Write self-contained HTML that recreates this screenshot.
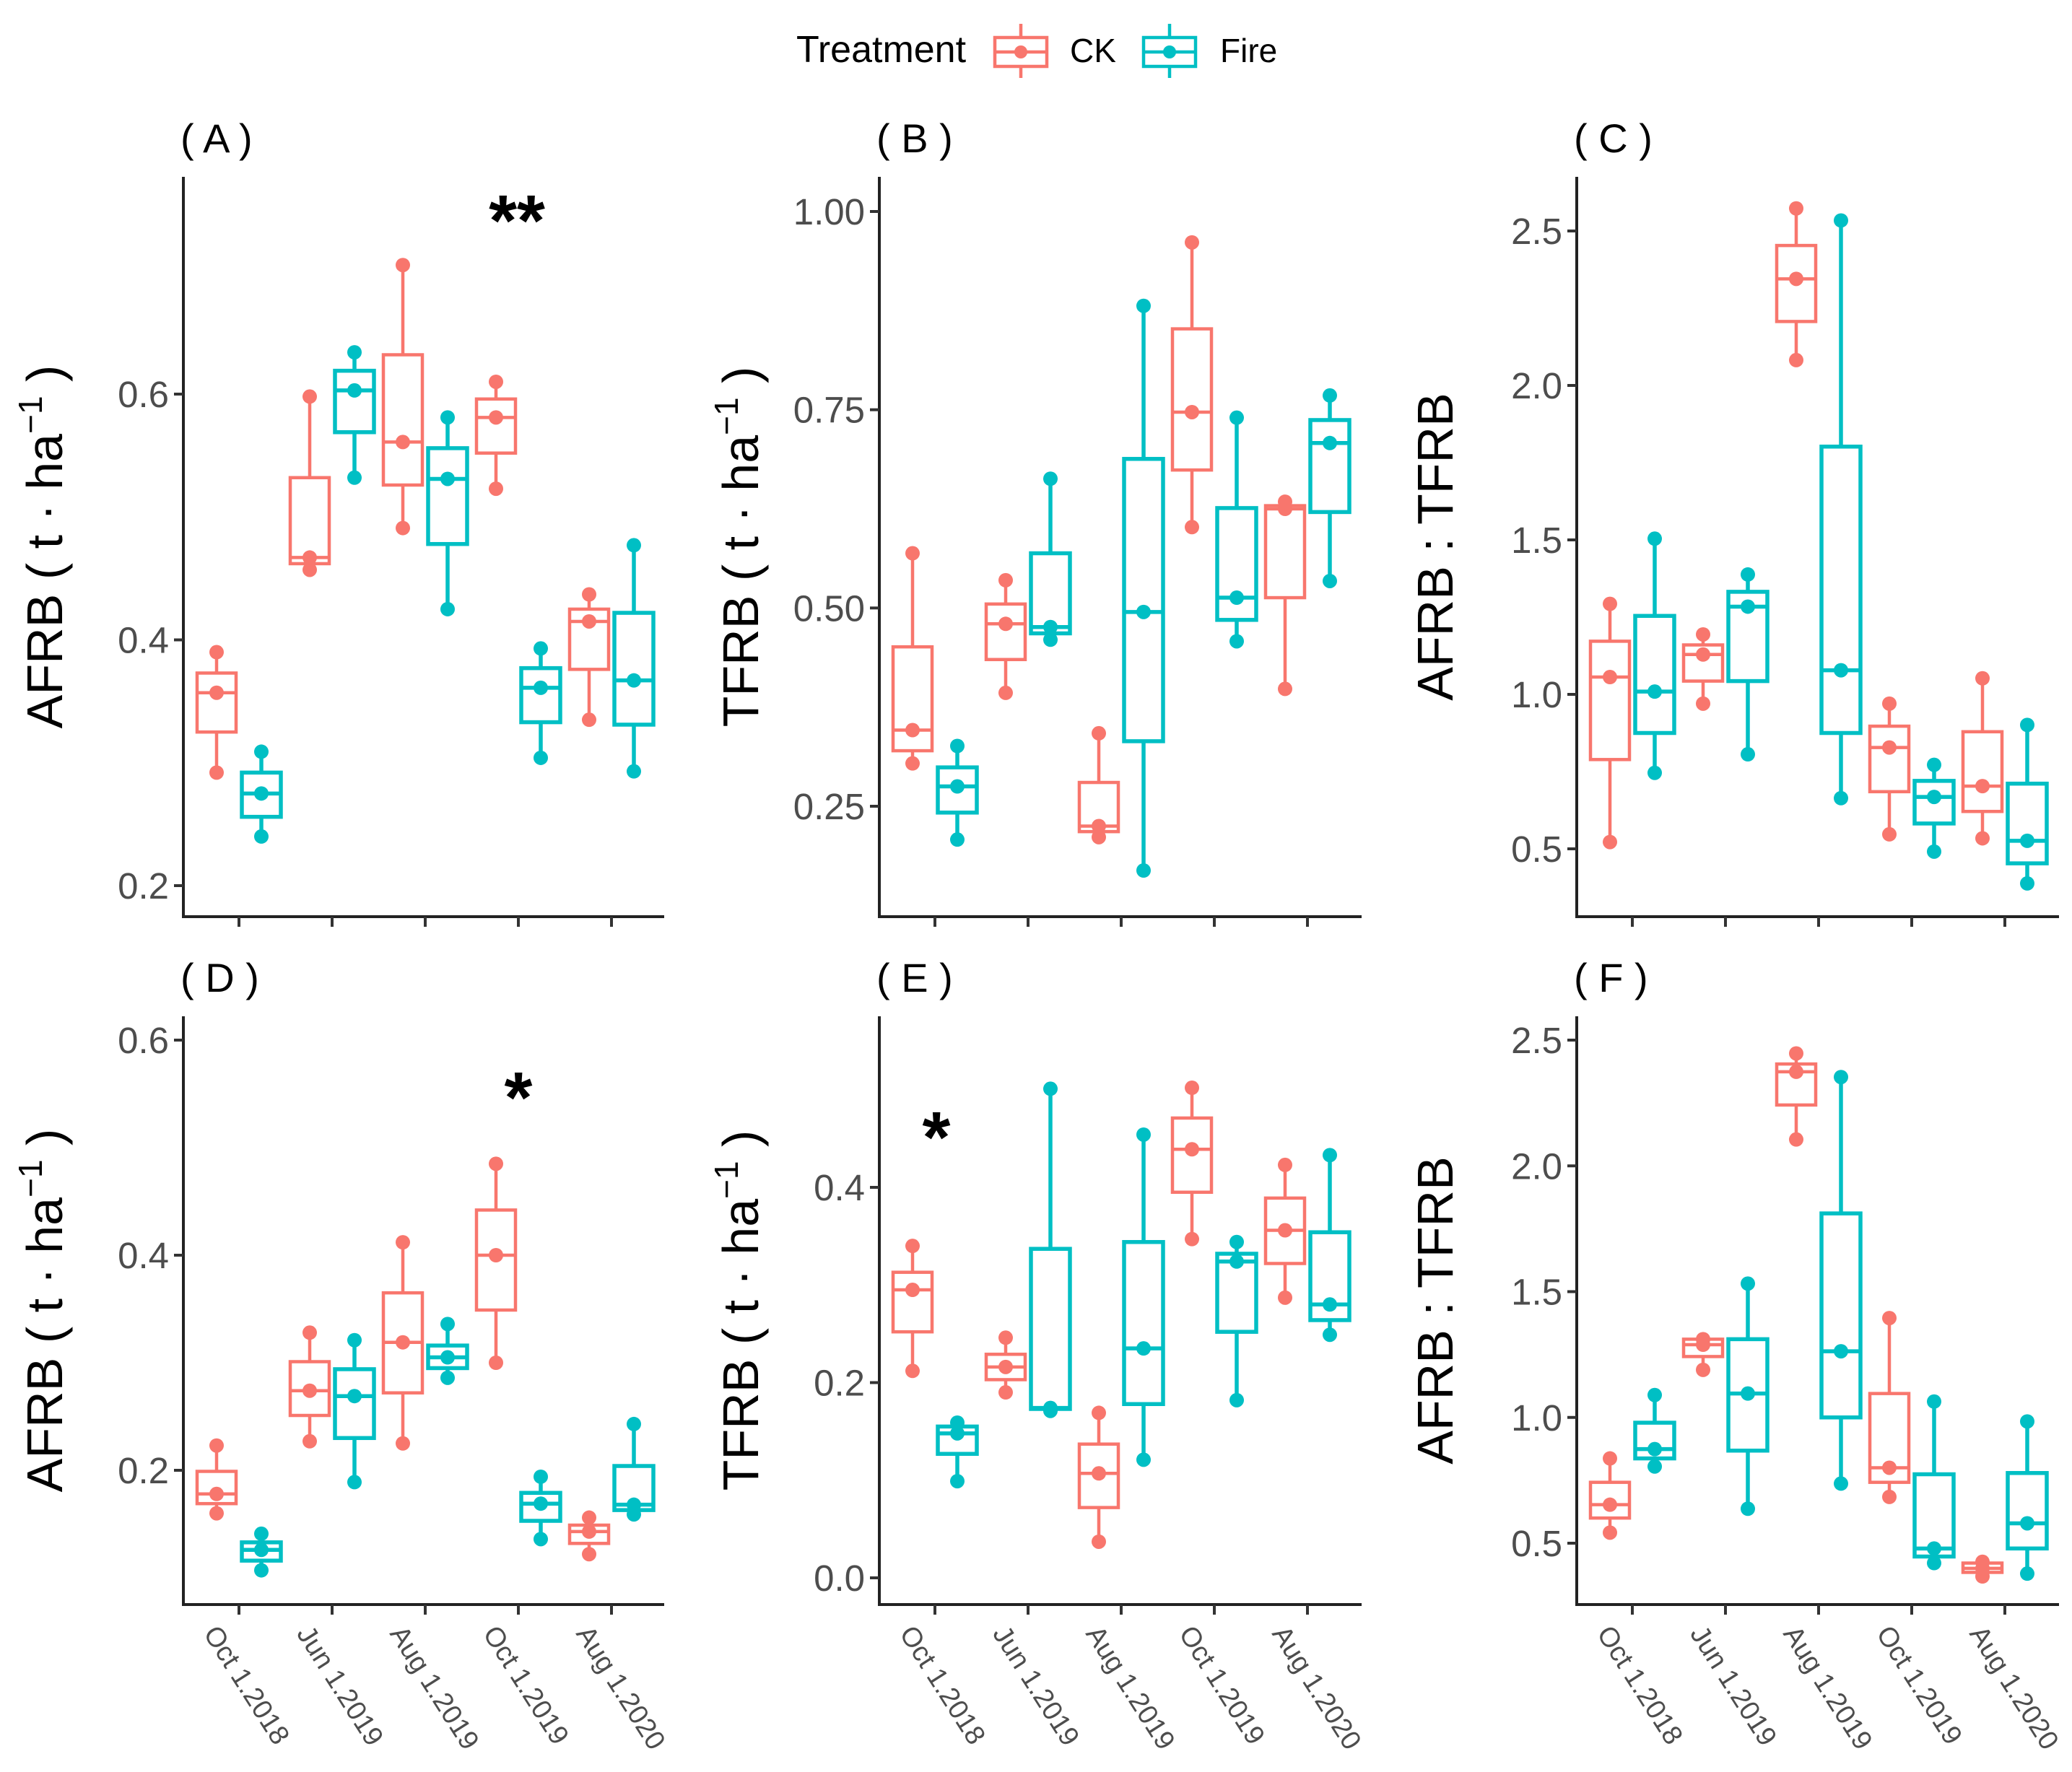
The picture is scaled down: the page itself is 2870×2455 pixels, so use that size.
<!DOCTYPE html>
<html><head><meta charset="utf-8"><style>
html,body{margin:0;padding:0;background:#fff}
svg{display:block;font-family:"Liberation Sans",sans-serif}
</style></head><body>
<svg id="fig" width="2870" height="2455" viewBox="0 0 2870 2455" xmlns="http://www.w3.org/2000/svg">
<g>
<text x="1103" y="86" font-size="52" fill="#000">Treatment</text>
<g stroke="#F8766D" stroke-width="4.5" fill="none">
<line x1="1414" y1="33" x2="1414" y2="52"/><line x1="1414" y1="92" x2="1414" y2="108"/>
<rect x="1378" y="52" width="72" height="40"/><line x1="1378" y1="72" x2="1450" y2="72"/>
<circle cx="1414" cy="72" r="9" fill="#F8766D" stroke="none"/>
</g>
<text x="1482" y="86" font-size="46" fill="#000">CK</text>
<g stroke="#00BFC4" stroke-width="4.5" fill="none">
<line x1="1620" y1="33" x2="1620" y2="52"/><line x1="1620" y1="92" x2="1620" y2="108"/>
<rect x="1584" y="52" width="72" height="40"/><line x1="1584" y1="72" x2="1656" y2="72"/>
<circle cx="1620" cy="72" r="9" fill="#00BFC4" stroke="none"/>
</g>
<text x="1690" y="86" font-size="46" fill="#000">Fire</text>
</g>
</svg>
<script>
const categories = ["Oct 1.2018","Jun 1.2019","Aug 1.2019","Oct 1.2019","Aug 1.2020"];
// each entry: [min, q1, median, q3, max] per date
const A_ck   = [[0.292,0.325,0.357,0.373,0.390],[0.457,0.462,0.467,0.532,0.598],[0.491,0.526,0.561,0.632,0.705],[0.523,0.552,0.581,0.596,0.610],[0.335,0.376,0.415,0.425,0.437]];
const A_fire = [[0.240,0.256,0.275,0.292,0.309],[0.532,0.569,0.603,0.619,0.634],[0.425,0.478,0.531,0.556,0.581],[0.304,0.333,0.361,0.377,0.393],[0.293,0.331,0.367,0.422,0.477]];
const B_ck   = [[0.304,0.320,0.346,0.451,0.569],[0.393,0.435,0.480,0.505,0.535],[0.211,0.218,0.225,0.280,0.342],[0.602,0.674,0.747,0.852,0.961],[0.398,0.513,0.625,0.629,0.634]];
const B_fire = [[0.208,0.242,0.275,0.299,0.326],[0.460,0.468,0.476,0.569,0.663],[0.169,0.332,0.495,0.688,0.881],[0.458,0.485,0.513,0.626,0.740],[0.534,0.621,0.708,0.737,0.768]];
const C_ck   = [[0.522,0.789,1.056,1.172,1.293],[0.970,1.043,1.129,1.160,1.194],[2.082,2.207,2.345,2.453,2.573],[0.547,0.685,0.828,0.897,0.970],[0.534,0.621,0.703,0.879,1.052]];
const C_fire = [[0.746,0.875,1.009,1.254,1.504],[0.806,1.043,1.284,1.332,1.388],[0.664,0.875,1.078,1.802,2.534],[0.491,0.582,0.668,0.720,0.772],[0.388,0.453,0.526,0.711,0.901]];
const D_ck   = [[0.160,0.169,0.178,0.199,0.223],[0.227,0.251,0.274,0.301,0.328],[0.225,0.272,0.319,0.365,0.412],[0.300,0.349,0.400,0.442,0.485],[0.122,0.132,0.143,0.149,0.156]];
const D_fire = [[0.107,0.116,0.126,0.133,0.141],[0.189,0.230,0.269,0.294,0.321],[0.286,0.295,0.305,0.316,0.336],[0.136,0.153,0.169,0.179,0.194],[0.159,0.163,0.168,0.204,0.243]];
const E_ck   = [[0.212,0.252,0.295,0.313,0.340],[0.190,0.203,0.216,0.229,0.246],[0.037,0.072,0.107,0.137,0.169],[0.347,0.395,0.439,0.471,0.502],[0.287,0.322,0.356,0.389,0.423]];
const E_fire = [[0.099,0.127,0.148,0.155,0.159],[0.171,0.173,0.174,0.337,0.501],[0.121,0.178,0.235,0.344,0.454],[0.182,0.252,0.324,0.332,0.344],[0.249,0.264,0.280,0.354,0.433]];
const F_ck   = [[0.542,0.600,0.653,0.742,0.837],[1.189,1.242,1.289,1.311,1.311],[2.105,2.242,2.374,2.405,2.447],[0.684,0.742,0.800,1.095,1.395],[0.368,0.384,0.400,0.421,0.426]];
const F_fire = [[0.805,0.837,0.874,0.979,1.089],[0.637,0.868,1.095,1.311,1.532],[0.737,1.000,1.263,1.811,2.353],[0.421,0.447,0.479,0.774,1.063],[0.379,0.479,0.579,0.779,0.984]];
const A_ticks = [0.2,0.4,0.6], B_ticks=[0.25,0.50,0.75,1.00], C_ticks=[0.5,1.0,1.5,2.0,2.5];
const D_ticks = [0.2,0.4,0.6], E_ticks=[0.0,0.2,0.4], F_ticks=[0.5,1.0,1.5,2.0,2.5];
const A_tickLabels=["0.2","0.4","0.6"], B_tickLabels=["0.25","0.50","0.75","1.00"], C_tickLabels=["0.5","1.0","1.5","2.0","2.5"];
const D_tickLabels=["0.2","0.4","0.6"], E_tickLabels=["0.0","0.2","0.4"], F_tickLabels=["0.5","1.0","1.5","2.0","2.5"];

const NS="http://www.w3.org/2000/svg";
const svg=document.getElementById('fig');
function mk(tag,attrs,parent){const e=document.createElementNS(NS,tag);for(const k in attrs)e.setAttribute(k,attrs[k]);(parent||svg).appendChild(e);return e;}

const panels=[
 {id:'A',ck:A_ck,fire:A_fire,ticks:A_ticks,labels:A_tickLabels,x0:254,x1:920,yt:245,yb:1270,v0:0.2,p0:1227,v1:0.6,p1:546,title:'afrb',xl:false,star:'**',starX:716,starY:340},
 {id:'B',ck:B_ck,fire:B_fire,ticks:B_ticks,labels:B_tickLabels,x0:1218,x1:1886,yt:245,yb:1270,v0:0.25,p0:1117,v1:1.0,p1:293,title:'tfrb',xl:false},
 {id:'C',ck:C_ck,fire:C_fire,ticks:C_ticks,labels:C_tickLabels,x0:2184,x1:2852,yt:245,yb:1270,v0:0.5,p0:1176,v1:2.5,p1:320,title:'ratio',xl:false},
 {id:'D',ck:D_ck,fire:D_fire,ticks:D_ticks,labels:D_tickLabels,x0:254,x1:920,yt:1408,yb:2223,v0:0.2,p0:2037,v1:0.6,p1:1441,title:'afrb',xl:true,star:'*',starX:718,starY:1555},
 {id:'E',ck:E_ck,fire:E_fire,ticks:E_ticks,labels:E_tickLabels,x0:1218,x1:1886,yt:1408,yb:2223,v0:0.0,p0:2186,v1:0.4,p1:1645,title:'tfrb',xl:true,star:'*',starX:1297,starY:1610},
 {id:'F',ck:F_ck,fire:F_fire,ticks:F_ticks,labels:F_tickLabels,x0:2184,x1:2852,yt:1408,yb:2223,v0:0.5,p0:2138,v1:2.5,p1:1441,title:'ratio',xl:true}
];
const COL={ck:'#F8766D',fire:'#00BFC4'};
panels.forEach(p=>{
 const g=mk('g',{});
 
 
 const y=v=>p.p0+(v-p.v0)*(p.p1-p.p0)/(p.v1-p.v0);
 const firstTick=p.x0+77, step=129;
 const x=i=>firstTick+i*step;
 const pl=mk('text',{x:p.x0-4,y:p.yt-34,'font-size':56,fill:'#000'},g);
 pl.textContent='( '+p.id+' )';
 
 
 const ax=mk('path',{d:`M${p.x0},${p.yt} V${p.yb} H${p.x1}`,stroke:'#222','stroke-width':4,fill:'none'},g);
 
 
 p.ticks.forEach((t,i)=>{
  const ty=y(t);
  const tl=mk('line',{x1:p.x0-13,x2:p.x0,y1:ty,y2:ty,stroke:'#333','stroke-width':4},g);
  
  
  const tx=mk('text',{x:p.x0-20,y:ty+18,'font-size':51,fill:'#4d4d4d','text-anchor':'end'},g);
  tx.textContent=p.labels[i];
  
  
 });
 categories.forEach((c,i)=>{
  const xl=mk('line',{x1:x(i),x2:x(i),y1:p.yb,y2:p.yb+14,stroke:'#333','stroke-width':4},g);
  
  
  if(p.xl){
   const lx=x(i)-50, ly=p.yb+40;
   const t=mk('text',{x:lx,y:ly,'font-size':38,fill:'#4d4d4d',transform:`rotate(57.5 ${lx} ${ly})`},g);
   t.textContent=c;
   
   
  }
 });
 const cy=(p.yt+p.yb)/2, tx=p.x0-(p.title==='ratio'?172:168);
 const yt=mk('text',{x:tx,y:cy,'font-size':70,fill:'#000','text-anchor':'middle',transform:`rotate(-90 ${tx} ${cy})`},g);
 
 
 if(p.title==='ratio'){yt.textContent='AFRB : TFRB';}
 else{
  const nm=p.title==='afrb'?'AFRB':'TFRB';
  yt.appendChild(document.createTextNode(nm+' ( t · ha'));
  const s=mk('tspan',{dy:-28,'font-size':46},yt);s.textContent='−1';
  const s2=mk('tspan',{dy:28},yt);s2.textContent=' )';
 }
 ['ck','fire'].forEach(ser=>{
  const data=p[ser], off=ser==='ck'?-31:31, col=COL[ser];
  data.forEach((d,i)=>{
   const cx=x(i)+off;
   const bg=mk('g',{stroke:col,'stroke-width':ser==='fire'?5.5:4.5,fill:'none'},g);
   
   
   mk('line',{x1:cx,x2:cx,y1:y(d[0]),y2:y(d[1])},bg);
   mk('line',{x1:cx,x2:cx,y1:y(d[3]),y2:y(d[4])},bg);
   mk('rect',{x:cx-27,y:y(d[3]),width:54,height:Math.max(1,y(d[1])-y(d[3]))},bg);
   mk('line',{x1:cx-27,x2:cx+27,y1:y(d[2]),y2:y(d[2])},bg);
   [d[0],d[2],d[4]].forEach(v=>{
    const c=mk('circle',{cx:cx,cy:y(v),r:10,fill:col,stroke:'none'},bg);
    
    
   });
  });
 });
 if(p.star){
  const s=mk('text',{x:p.starX,y:p.starY,'font-size':100,'font-weight':'bold',fill:'#000','text-anchor':'middle'},g);
  s.textContent=p.star;
  
  
 }
});
</script>
</body></html>
